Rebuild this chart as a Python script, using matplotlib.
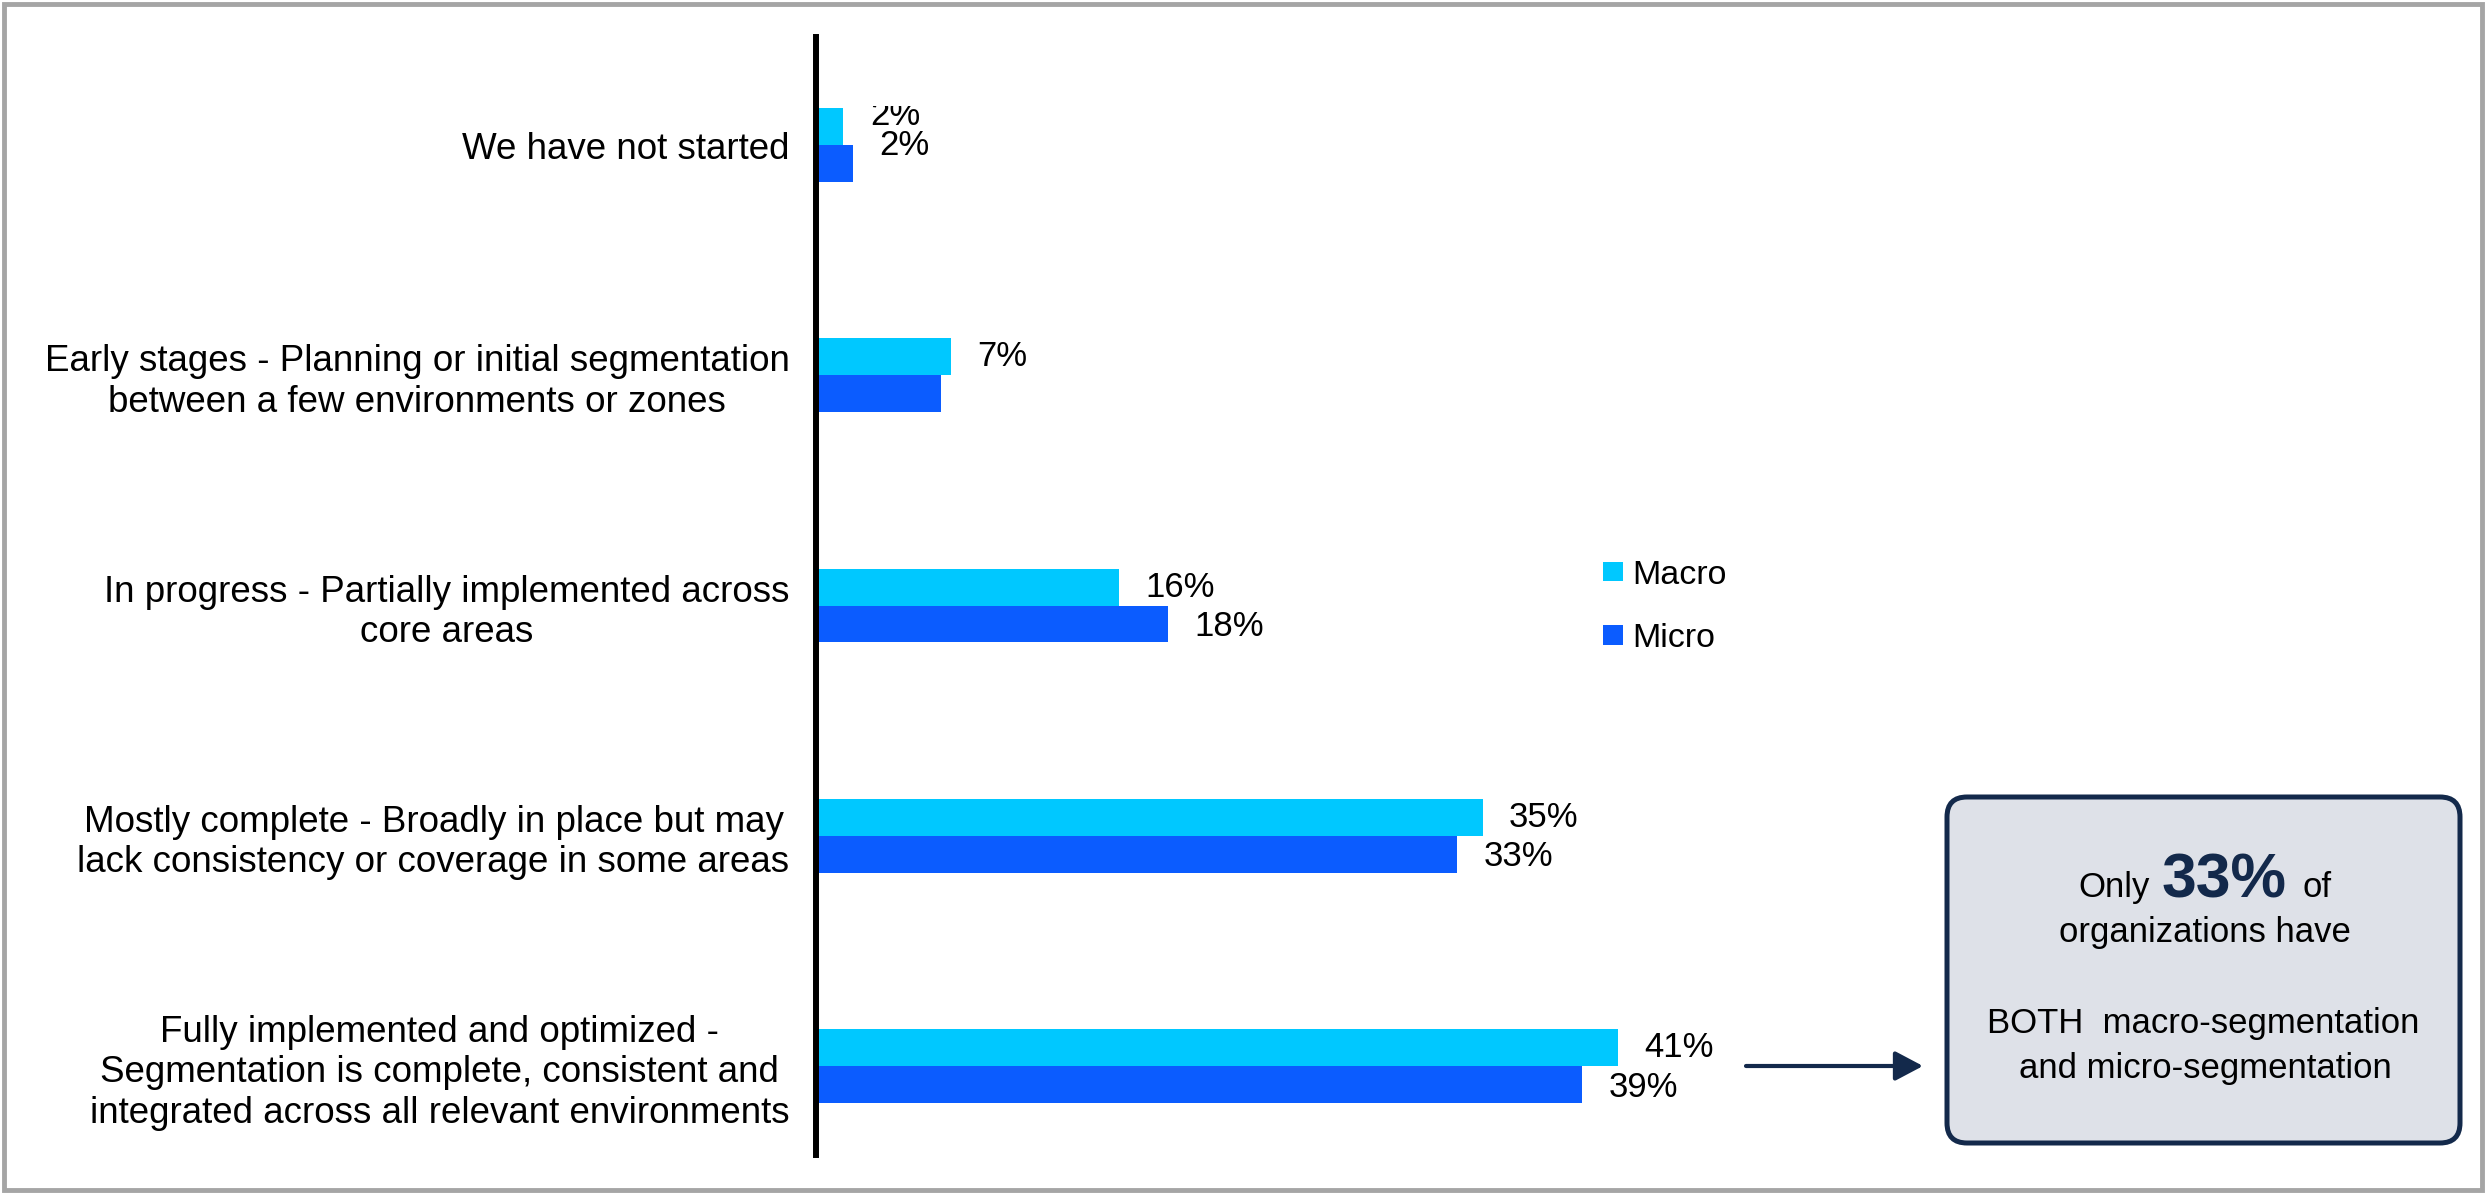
import numpy as np
import matplotlib
matplotlib.use("Agg")
import matplotlib.pyplot as plt
import matplotlib.transforms as mtransforms
from matplotlib.patches import FancyBboxPatch, FancyArrowPatch, Rectangle
from matplotlib.lines import Line2D

plt.rcParams['font.family'] = ['Liberation Sans', 'DejaVu Sans']

# data
categories = [
    "We have not started",
    "Early stages - Planning or initial segmentation\nbetween a few environments or zones",
    "In progress - Partially implemented across\ncore areas",
    "Mostly complete - Broadly in place but may\nlack consistency or coverage in some areas",
    "Fully implemented and optimized -\nSegmentation is complete, consistent and\nintegrated across all relevant environments",
]
series_names = ["Macro", "Micro"]
macro = [1.4, 6.9, 15.5, 34.1, 41.0]
micro = [1.9, 6.4, 18.0, 32.8, 39.2]
macro_labels = ["2%", "7%", "16%", "35%", "41%"]
micro_labels = ["2%", "", "18%", "33%", "39%"]

macro_color = '#00C8FF'
micro_color = '#0B5CFF'
navy = '#13294B'

W, H = 2488, 1200
fig = plt.figure(figsize=(W / 100, H / 100), dpi=100)
fig.patch.set_facecolor('white')

# pixel coords measured from the top-left corner
px = mtransforms.Affine2D().scale(1, -1).translate(0, H)

ax = fig.add_axes([816 / W, 1 - 1155 / H, (2480 - 816) / W, (1155 - 106) / H])
ax.set_xlim(0, 85.1)
ax.set_ylim(4.3865, -0.1694)

y = np.arange(len(categories))
h = 0.16
b1 = ax.barh(y - h / 2, macro, height=h, color=macro_color, label=series_names[0])
b2 = ax.barh(y + h / 2, micro, height=h, color=micro_color, label=series_names[1])

# value labels (first pair nudged up as in the original)
for i in range(len(categories)):
    dy1, dy2 = (8, 13) if i == 0 else (0, -2)
    if macro_labels[i]:
        ax.annotate(macro_labels[i], (macro[i], y[i] - h / 2), xytext=(19, dy1),
                    textcoords='offset points', va='center', ha='left',
                    fontsize=25, clip_on=True)
    if micro_labels[i]:
        ax.annotate(micro_labels[i], (micro[i], y[i] + h / 2), xytext=(19, dy2),
                    textcoords='offset points', va='center', ha='left',
                    fontsize=25, clip_on=True)

ax.set_yticks(y)
ax.set_yticklabels(categories, fontsize=26.5, multialignment='center')
ax.tick_params(axis='y', length=0, pad=19)
ax.set_xticks([])
for s in ax.spines.values():
    s.set_visible(False)

# vertical axis line
fig.add_artist(Line2D([816, 816], [37, 1155], color='black', lw=4.3, transform=px, zorder=5))

# legend
fig.legend(handles=[b1, b2], labels=series_names, loc='center left',
           bbox_to_anchor=(1603, 607), bbox_transform=px, frameon=False,
           fontsize=24.5, handlelength=0.6, handleheight=0.5, handletextpad=0.25,
           labelspacing=0.95, borderaxespad=0, borderpad=0)

# call-out box
box = FancyBboxPatch((1947, 797), 513, 346, boxstyle='round,pad=0,rounding_size=20',
                     transform=px, facecolor='#DEE1E8', edgecolor=navy, lw=3.6)
fig.add_artist(box)
fig.text(2078, 897, "Only", transform=px, fontsize=25, ha='left', va='baseline')
fig.text(2162, 897, "33%", transform=px, fontsize=45, fontweight='bold', color=navy,
         ha='left', va='baseline')
fig.text(2303, 897, "of", transform=px, fontsize=25, ha='left', va='baseline')
fig.text(2205, 942, "organizations have", transform=px, fontsize=25, ha='center', va='baseline')
fig.text(2203, 1033, "BOTH  macro-segmentation", transform=px, fontsize=25, ha='center', va='baseline')
fig.text(2205, 1078, "and micro-segmentation", transform=px, fontsize=25, ha='center', va='baseline')

# arrow to the box
arrow = FancyArrowPatch((1746, 1066), (1923, 1066), transform=px,
                        arrowstyle='-|>,head_length=0.85,head_width=0.45',
                        mutation_scale=20, lw=3, color=navy, shrinkA=0, shrinkB=0)
fig.add_artist(arrow)

# outer frame
fig.add_artist(Rectangle((4, 4), 2478, 1186, transform=px, fill=False,
                         edgecolor='#A5A5A5', lw=3.5))

fig.savefig('out.png', dpi=100)
